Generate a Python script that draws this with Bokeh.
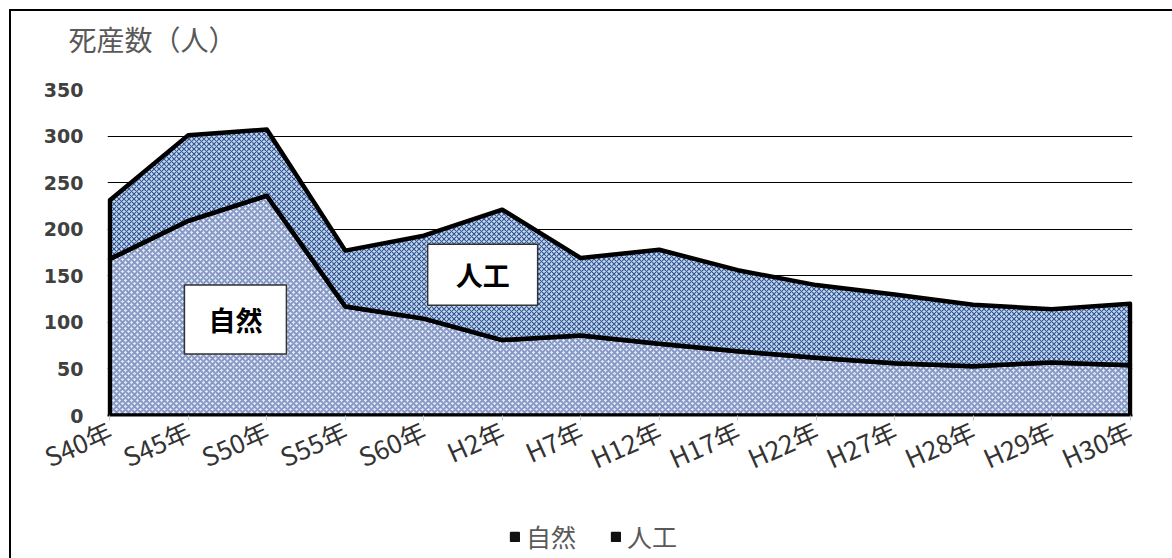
from bokeh.plotting import figure
from bokeh.layouts import column
from bokeh.models import (Range1d, FixedTicker, Legend, LegendItem, Label,
                          ColumnDataSource)
from bokeh.embed import file_html
from bokeh.resources import INLINE

# ---- data ----
categories = ["S40年", "S45年", "S50年", "S55年", "S60年", "H2年", "H7年",
              "H12年", "H17年", "H22年", "H27年", "H28年", "H29年", "H30年"]
natural = [168, 209, 236, 117, 104, 81, 86, 77, 69, 62, 56, 53, 57, 54]
artificial = [63, 92, 71, 60, 89, 140, 83, 101, 87, 78, 74, 66, 57, 66]
series_names = ["自然", "人工"]
y_ticks = [0, 50, 100, 150, 200, 250, 300, 350]
y_title = "死産数（人）"

x = list(range(len(categories)))
total = [n + a for n, a in zip(natural, artificial)]

# ---- title strip (frame aligned with the main plot) ----
tf = figure(width=1163, height=50, output_backend="svg", toolbar_location=None,
            x_axis_type=None, y_axis_type=None, min_border=0,
            min_border_top=47, x_range=Range1d(0, 1), y_range=Range1d(0, 1),
            title=y_title)
tf.outline_line_color = None
tf.xgrid.grid_line_color = None
tf.ygrid.grid_line_color = None
tf.title.text_font = "Noto Sans CJK JP"
tf.title.text_font_size = "28px"
tf.title.text_font_style = "normal"
tf.title.text_color = "#595959"
tf.title.align = "left"
tf.title.offset = -39
tf.title.standoff = 0

# ---- main plot ----
p = figure(width=1163, height=444, output_backend="svg", toolbar_location=None,
           x_range=Range1d(-0.03, len(categories) - 1 + 0.03),
           y_range=Range1d(0, 350),
           min_border_left=96, min_border_right=42, min_border_top=28,
           min_border_bottom=90)
p.outline_line_color = None
p.background_fill_color = "white"

# grid
p.xgrid.grid_line_color = None
p.ygrid.grid_line_color = "#000000"
p.ygrid.grid_line_width = 1.2
p.ygrid.ticker = FixedTicker(ticks=y_ticks[1:])

# areas
nat_xs = x + [x[-1], x[0]]
nat_ys = natural + [0, 0]
art_xs = x + x[::-1]
art_ys = total + natural[::-1]

r_nat = p.patch(nat_xs, nat_ys, fill_color="#dde7f7", line_color="black",
                line_width=4.5, line_join="round",
                hatch_pattern="x", hatch_color="#8596c3", hatch_scale=6,
                hatch_weight=1.9)
r_art = p.patch(art_xs, art_ys, fill_color="#c6dbf3", line_color="black",
                line_width=4.5, line_join="round",
                hatch_pattern="x", hatch_color="#34558f", hatch_scale=5,
                hatch_weight=1.1)

# axes
p.yaxis.ticker = FixedTicker(ticks=y_ticks)
p.yaxis.axis_line_color = None
p.yaxis.major_tick_line_color = None
p.yaxis.minor_tick_line_color = None
p.yaxis.major_label_standoff = 18
p.yaxis.major_label_text_font = "DejaVu Sans"
p.yaxis.major_label_text_font_style = "bold"
p.yaxis.major_label_text_font_size = "19px"
p.yaxis.major_label_text_color = "#404040"

p.xaxis.ticker = FixedTicker(ticks=x)
p.xaxis.major_label_overrides = {i: c for i, c in zip(x, categories)}
p.xaxis.axis_line_color = "black"
p.xaxis.axis_line_width = 2
p.xaxis.major_tick_in = 0
p.xaxis.major_tick_out = 5
p.xaxis.major_tick_line_color = "#c8c8c8"
p.xaxis.minor_tick_line_color = None
p.xaxis.major_label_orientation = 0.42
p.xaxis.major_label_standoff = 8
p.xaxis.major_label_text_font = "Noto Sans CJK JP"
p.xaxis.major_label_text_font_size = "26px"
p.xaxis.major_label_text_color = "#333333"

# boxed labels
box_style = dict(text_font="Noto Sans CJK JP", text_font_style="bold",
                 text_font_size="27px", text_color="black",
                 text_align="center", text_baseline="middle",
                 background_fill_color="white", border_line_color="#333333",
                 border_line_width=1.5)
p.add_layout(Label(x=1.60, y=103, text=series_names[0],
                   padding=dict(left=24, right=24, top=15, bottom=15), **box_style))
p.add_layout(Label(x=4.75, y=151, text=series_names[1],
                   padding=dict(left=28, right=28, top=11, bottom=11), **box_style))

# ---- legend strip below (frame aligned with main plot's frame) ----
lf = figure(width=1163, height=55, output_backend="svg", toolbar_location=None,
            x_axis_type=None, y_axis_type=None, min_border=0,
            x_range=Range1d(0, 1), y_range=Range1d(0, 1))
lf.outline_line_color = None
lf.xgrid.grid_line_color = None
lf.ygrid.grid_line_color = None
nan = float("nan")
src = ColumnDataSource(data=dict(l=[nan], r=[nan], b=[nan], t=[nan]))
s1 = lf.quad(left="l", right="r", bottom="b", top="t", source=src,
             fill_color="#111111", line_color="#111111", line_width=1.5)
s2 = lf.quad(left="l", right="r", bottom="b", top="t", source=src,
             fill_color="#111111", line_color="#111111", line_width=1.5)
legend = Legend(items=[LegendItem(label=series_names[0], renderers=[s1]),
                       LegendItem(label=series_names[1], renderers=[s2])],
                orientation="horizontal", location=(402, 6),
                label_text_font="Noto Sans CJK JP", label_text_font_size="25px",
                label_text_color="#595959", border_line_color=None,
                background_fill_alpha=0, glyph_width=11, glyph_height=11,
                spacing=34, label_standoff=6, margin=0, padding=2)
lf.add_layout(legend, "center")

layout = column(tf, p, lf, spacing=0)
layout.styles = {"border-left": "2px solid black", "border-top": "2px solid black",
                 "margin-left": "9px", "margin-top": "9px"}

open("out.html", "w").write(file_html(layout, INLINE))
